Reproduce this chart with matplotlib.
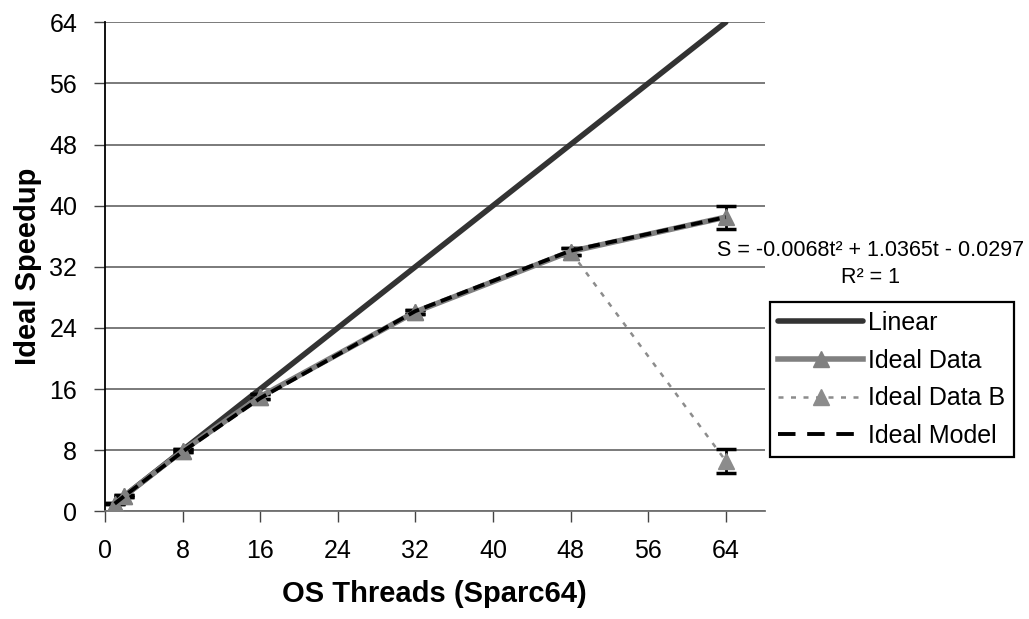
import matplotlib
matplotlib.use("Agg")
import matplotlib.pyplot as plt
from matplotlib.lines import Line2D

plt.rcParams['font.family'] = ['Liberation Sans', 'DejaVu Sans']

# data
threads = [1, 2, 8, 16, 32, 48, 64]
linear = [1, 2, 8, 16, 32, 48, 64]
ideal_data = [1.0, 2.0, 7.9, 15.0, 26.1, 34.0, 38.5]
ideal_err = [0.1, 0.1, 0.2, 0.3, 0.3, 0.5, 1.5]
ideal_b = [1.0, 2.0, 7.9, 15.0, 26.1, 34.0, 6.6]
ideal_b_err = [0.1, 0.1, 0.2, 0.3, 0.3, 0.5, 1.6]
ideal_model = [1.0, 2.0, 7.8, 14.8, 26.2, 34.1, 38.5]

xticks = [0, 8, 16, 24, 32, 40, 48, 56, 64]
yticks = [0, 8, 16, 24, 32, 40, 48, 56, 64]

fig = plt.figure(figsize=(10.29, 6.19), dpi=100)
ax = fig.add_axes([0.102, 0.174, 0.641, 0.790])

for y in yticks:
    ax.axhline(y, color='#707070', linewidth=1.3, zorder=0)

l_lin, = ax.plot(threads, linear, color='#333333', linewidth=4,
                 solid_capstyle='round', label='Linear', zorder=2)
eb1 = ax.errorbar(threads, ideal_data, yerr=ideal_err, color='#808080', linewidth=4,
                  marker='^', markersize=12, ecolor='black', elinewidth=2,
                  capsize=7, capthick=2.5, label='Ideal Data', zorder=3)
eb2 = ax.errorbar(threads, ideal_b, yerr=ideal_b_err, color='#8c8c8c', linewidth=1.8,
                  linestyle=(0, (2, 3)), marker='^', markersize=12, ecolor='black',
                  elinewidth=2, capsize=7, capthick=2.5, label='Ideal Data B',
                  zorder=2.5)
l_mod, = ax.plot(threads, ideal_model, color='black', linewidth=2.8,
                 linestyle=(0, (3, 1.5)), label='Ideal Model', zorder=4)

ax.set_xlim(0, 68)
ax.set_ylim(0, 64)
ax.set_xticks(xticks)
ax.set_yticks(yticks)
ax.tick_params(axis='both', labelsize=18, direction='out', length=8, width=1,
               color='#444444', pad=12)

for s in ['top', 'right']:
    ax.spines[s].set_visible(False)
ax.spines['left'].set_color('black')
ax.spines['left'].set_linewidth(1.3)
ax.spines['bottom'].set_color('#707070')
ax.spines['bottom'].set_linewidth(1.3)

ax.set_xlabel('OS Threads (Sparc64)', fontsize=21, fontweight='bold', labelpad=12)
ax.set_ylabel('Ideal Speedup', fontsize=21, fontweight='bold', labelpad=5)

fig.text(0.846, 0.596, 'S = -0.0068t\u00b2 + 1.0365t - 0.0297', fontsize=15.5,
         ha='center', va='center')
fig.text(0.846, 0.551, 'R\u00b2 = 1', fontsize=15.5, ha='center', va='center')

# legend shows the model with longer dashes, as in the original
mod_handle = Line2D([], [], color='black', linewidth=2.8, linestyle=(0, (4.5, 3)))
handles = [l_lin, eb1.lines[0], eb2.lines[0], mod_handle]
labels = ['Linear', 'Ideal Data', 'Ideal Data B', 'Ideal Model']
leg = fig.legend(handles, labels, loc='upper left', bbox_to_anchor=(0.748, 0.512),
                 fontsize=18, handlelength=3.4, handletextpad=0.2, borderpad=0.35,
                 labelspacing=0.55, fancybox=False, framealpha=1,
                 edgecolor='black', borderaxespad=0)
leg.get_frame().set_linewidth(1.6)

fig.savefig('out.png', dpi=100)
plt.close()
